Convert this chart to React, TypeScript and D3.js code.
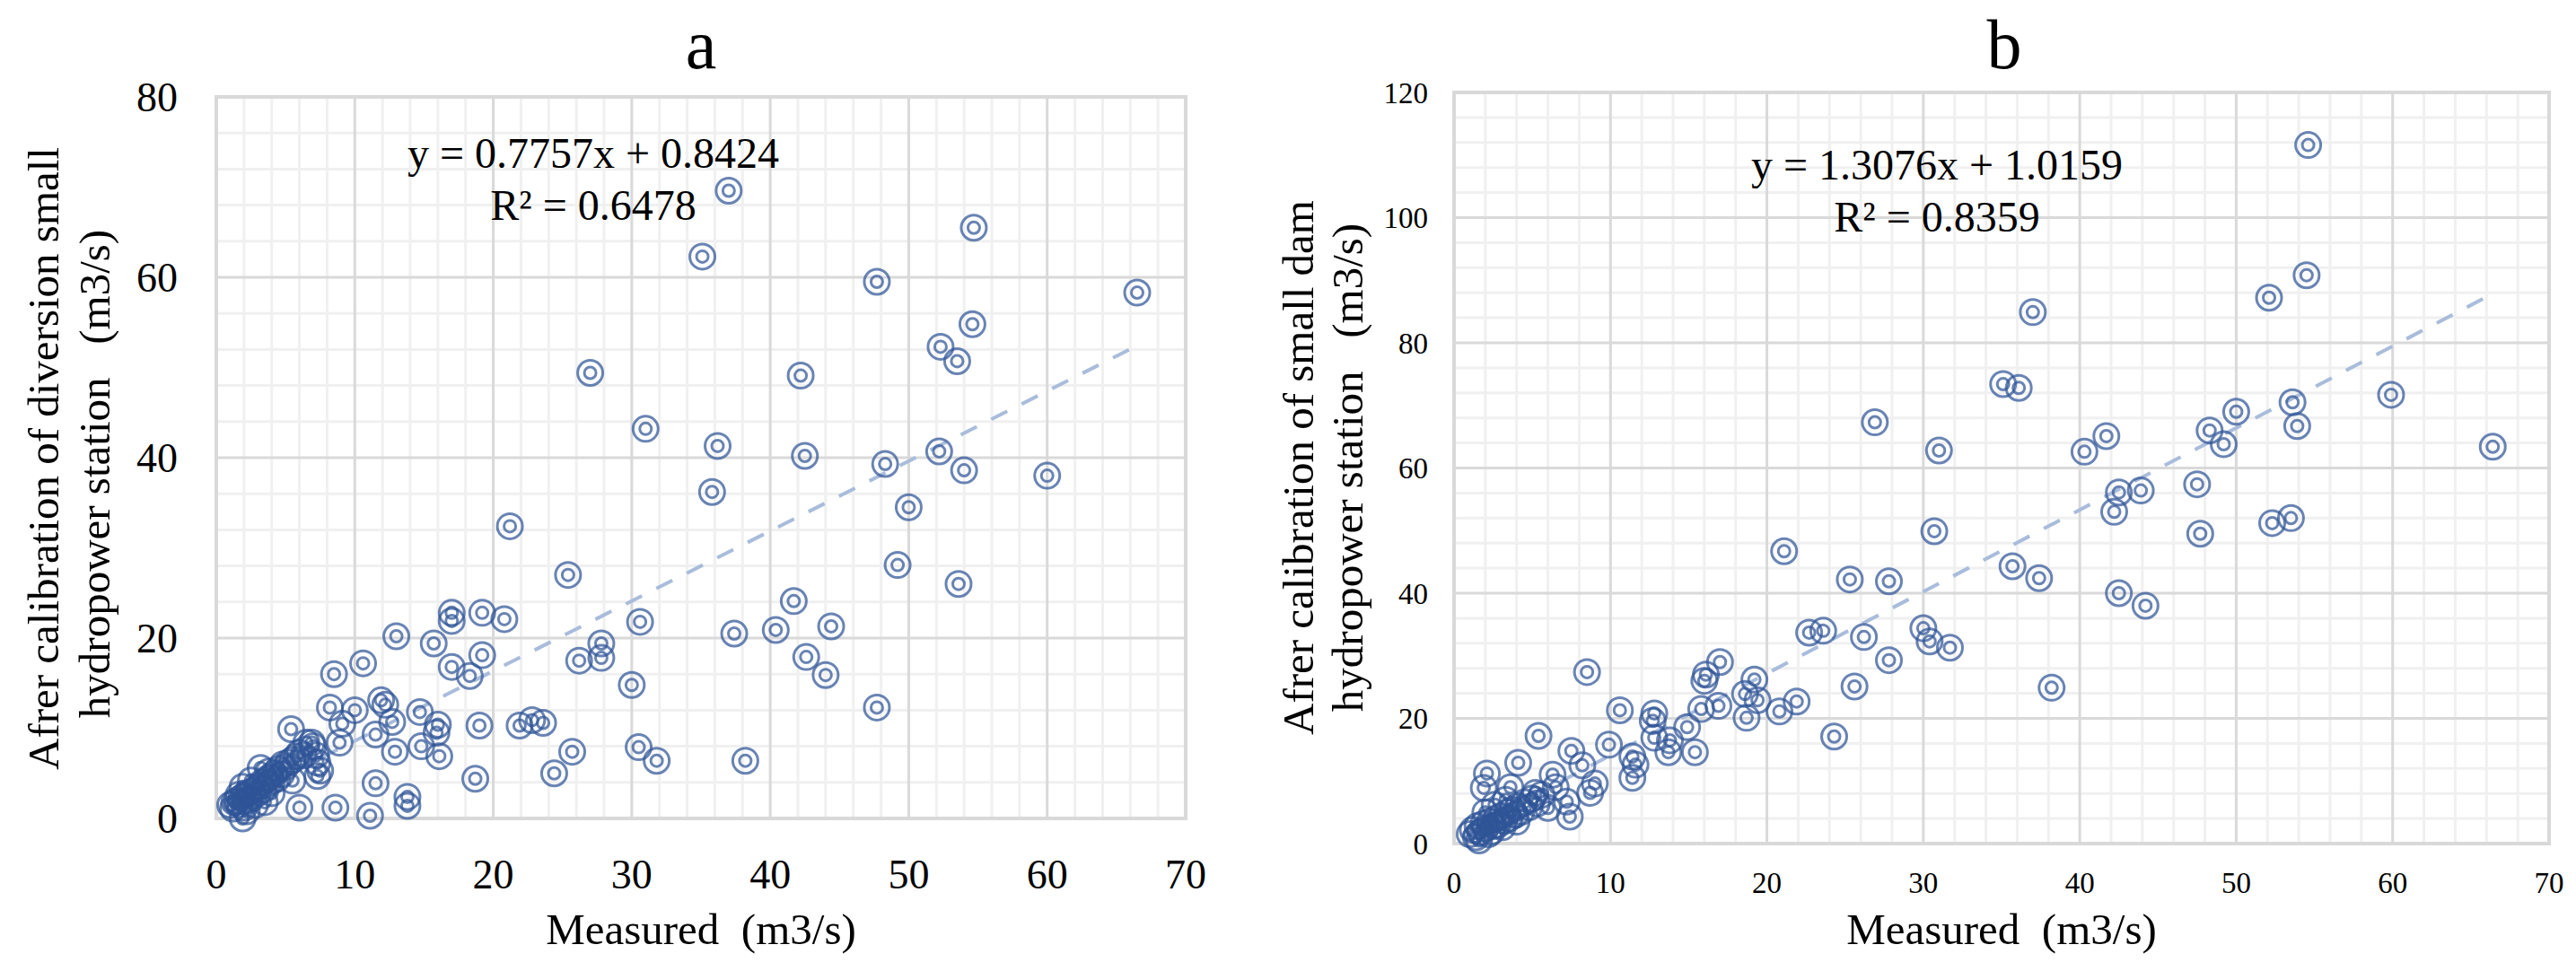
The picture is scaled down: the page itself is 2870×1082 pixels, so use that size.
import React from 'react';
import * as d3 from 'd3';

// shared tick labels
const xTicks = [0, 10, 20, 30, 40, 50, 60, 70];
const yTicksA = [0, 20, 40, 60, 80];
const yTicksB = [0, 20, 40, 60, 80, 100, 120];

// panel a: measured vs. diversion small hydropower station
const measuredA = [
  37.0, 54.7, 35.1, 47.7, 66.5, 54.6, 52.3, 53.5, 27.0, 42.2,
  31.0, 36.2, 52.2, 42.5, 48.3, 54.0, 60.0, 35.8, 50.0, 21.2,
  49.2, 25.4, 53.6, 41.7, 17.0, 19.2, 20.8, 17.0, 30.6, 44.4,
  40.4, 37.4, 13.0, 15.7, 27.8, 19.2, 42.6, 26.2, 27.8, 17.0,
  18.3, 8.5, 44.0, 10.6, 30.0, 47.7, 11.9, 12.2, 8.2, 10.0,
  14.7, 21.9, 22.8, 23.6, 19.0, 16.0, 15.9, 12.7, 9.1, 5.4,
  11.5, 14.8, 8.9, 6.9, 25.7, 12.9, 30.5, 16.1, 31.8, 38.2,
  24.4, 18.7, 7.3, 7.3, 7.5, 11.5, 13.8, 13.8, 8.6, 6.0,
  11.1, 1.9,
  1.0, 1.3, 1.5, 1.7, 1.8, 2.0, 2.1, 2.3, 2.4, 2.6,
  2.7, 2.9, 3.0, 3.1, 3.3, 3.4, 3.6, 3.7, 3.9, 4.0,
  4.2, 4.4, 4.5, 4.7, 5.0, 5.2, 5.5, 5.8, 6.0, 6.3,
  6.5, 7.0, 7.2, 3.2, 2.5, 3.5, 2.2, 4.0, 1.2, 1.9,
  2.8, 5.5, 3.8, 4.8, 2.0, 1.6,
];
const calibratedA = [
  69.6, 65.5, 62.3, 59.5, 58.3, 54.8, 52.3, 50.7, 49.4, 49.1,
  43.2, 41.3, 40.7, 40.2, 39.3, 38.6, 38.0, 36.2, 34.5, 32.4,
  28.1, 27.0, 26.0, 24.1, 22.8, 22.8, 22.1, 21.9, 21.8, 21.3,
  20.9, 20.5, 20.2, 19.4, 19.4, 18.1, 17.9, 17.5, 17.8, 16.8,
  15.8, 16.0, 15.9, 17.2, 14.8, 12.3, 13.1, 12.6, 12.3, 12.0,
  11.8, 10.3, 10.9, 10.6, 10.3, 10.4, 9.5, 10.7, 10.5, 9.9,
  9.3, 8.0, 8.4, 8.4, 7.4, 7.4, 7.9, 6.9, 6.4, 6.4,
  5.0, 4.4, 4.7, 6.2, 5.3, 3.9, 2.4, 1.4, 1.2, 1.2,
  0.3, 0.0,
  1.5, 1.8, 2.0, 1.6, 2.3, 2.5, 1.9, 2.8, 2.2, 3.0,
  2.6, 3.3, 2.8, 3.6, 4.0, 3.2, 4.3, 3.8, 4.6, 4.1,
  5.0, 4.4, 5.5, 4.9, 5.7, 6.2, 6.5, 6.9, 7.3, 7.0,
  8.4, 8.0, 7.0, 5.6, 4.2, 1.8, 0.8, 2.8, 1.1, 3.5,
  1.5, 4.2, 5.2, 6.0, 1.2, 2.6,
];

// panel b: measured vs. small dam hydropower station
const measuredB = [
  54.6, 54.5, 52.1, 37.0, 35.1, 36.1, 59.9, 53.6, 50.0, 26.9,
  53.9, 48.3, 41.7, 49.2, 66.4, 40.3, 31.0, 47.5, 42.5, 43.9,
  42.2, 53.5, 52.3, 30.7, 47.7, 21.1, 35.7, 37.4, 25.3, 27.8,
  42.5, 44.2, 22.7, 23.6, 30.0, 30.4, 26.2, 31.7, 17.0, 27.8,
  16.1, 16.0, 8.5, 19.2, 25.6, 38.2, 18.6, 21.9, 16.9, 19.4,
  20.8, 10.6, 15.8, 12.8, 12.7, 14.9, 18.7, 24.3, 5.4, 12.8,
  9.9, 13.8, 15.4, 13.7, 7.5, 4.1, 11.4, 11.6, 8.2, 11.4,
  2.1, 6.3, 1.9, 3.6, 6.5, 9.0, 8.7, 7.2, 7.4, 5.2,
  6.0,
  1.0, 1.2, 1.4, 1.5, 1.7, 1.9, 2.0, 2.2, 2.3, 2.5,
  2.7, 2.8, 3.0, 3.2, 3.4, 3.5, 3.7, 3.9, 4.1, 4.3,
  4.5, 4.8, 5.0, 5.3, 1.6, 2.4, 3.1, 2.0, 2.6, 3.3,
  4.0, 5.6,
];
const calibratedB = [
  111.6, 90.8, 87.2, 84.9, 73.4, 72.8, 71.7, 70.5, 69.0, 67.3,
  66.7, 66.0, 65.1, 63.8, 63.4, 62.6, 62.8, 57.4, 56.1, 56.4,
  53.0, 52.0, 51.2, 49.9, 49.5, 46.7, 44.3, 42.4, 42.2, 41.9,
  40.0, 38.0, 33.7, 34.0, 34.4, 32.3, 33.0, 31.3, 29.0, 29.3,
  27.0, 26.0, 27.4, 26.2, 25.1, 24.9, 23.9, 22.7, 22.0, 22.9,
  21.1, 21.3, 21.5, 20.8, 19.6, 18.6, 20.1, 17.1, 17.2, 16.9,
  15.8, 16.5, 14.6, 14.6, 14.8, 12.9, 13.9, 12.6, 12.5, 10.5,
  11.2, 11.0, 8.9, 9.0, 9.0, 9.6, 8.1, 6.7, 4.3, 8.1,
  5.7,
  1.5, 2.2, 1.0, 2.8, 1.8, 3.2, 2.4, 1.5, 3.6, 2.8,
  4.0, 3.0, 4.4, 3.6, 5.0, 4.0, 5.4, 4.6, 6.0, 5.1,
  6.6, 5.8, 7.2, 6.4, 0.5, 1.9, 2.6, 5.0, 6.2, 7.0,
  3.5, 7.8,
];

const FONT = '"Liberation Serif", "DejaVu Serif", serif';
const MARK = '#2F5597';
const TREND = '#a9bcdb';

type PanelProps = {
  xs: number[];
  ys: number[];
  yMax: number;
  yTicks: number[];
  left: number; right: number; top: number; bottom: number;
  tickFont: number;
  yTickRight: number;
  xTickBase: number;
  title: string; titleX: number;
  slope: number; intercept: number;
  eq: string; r2: string; eqX: number; eqY: number;
  yTitle: { text: string; x: number; y: number }[];
  xTitleX: number;
};

function Panel(p: PanelProps) {
  const x = d3.scaleLinear().domain([0, 70]).range([p.left, p.right]);
  const y = d3.scaleLinear().domain([0, p.yMax]).range([p.bottom, p.top]);
  const xMinor = d3.range(0, 70.01, 2).filter((v) => v % 10 !== 0);
  const yMinor = d3.range(0, p.yMax + 0.01, 4).filter((v) => v % 20 !== 0);
  const xMin = d3.min(p.xs) as number;
  const xMax = d3.max(p.xs) as number;

  return (
    <g style={{ fontFamily: FONT }}>
      {/* minor grid */}
      <g stroke="#f0f0f0" strokeWidth={3}>
        {xMinor.map((v) => (
          <line key={'xm' + v} x1={x(v)} x2={x(v)} y1={p.top} y2={p.bottom} />
        ))}
        {yMinor.map((v) => (
          <line key={'ym' + v} x1={p.left} x2={p.right} y1={y(v)} y2={y(v)} />
        ))}
      </g>
      {/* major grid */}
      <g stroke="#d9d9d9" strokeWidth={3}>
        {xTicks.map((v) => (
          <line key={'xg' + v} x1={x(v)} x2={x(v)} y1={p.top} y2={p.bottom} />
        ))}
        {p.yTicks.map((v) => (
          <line key={'yg' + v} x1={p.left} x2={p.right} y1={y(v)} y2={y(v)} />
        ))}
      </g>
      <rect x={p.left} y={p.top} width={p.right - p.left} height={p.bottom - p.top}
        fill="none" stroke="#d9d9d9" strokeWidth={4} />

      {/* trendline */}
      <line x1={x(xMin)} y1={y(p.slope * xMin + p.intercept)}
        x2={x(xMax)} y2={y(p.slope * xMax + p.intercept)}
        stroke={TREND} strokeWidth={4} strokeDasharray="20 18" />

      {/* markers */}
      <g fill="none" stroke={MARK} strokeOpacity={0.72} strokeWidth={3}>
        {p.xs.map((v, i) => (
          <g key={i} transform={`translate(${x(v)},${y(p.ys[i])})`}>
            <circle r={14} />
            <circle r={6.5} />
          </g>
        ))}
      </g>

      {/* tick labels */}
      <g fontSize={p.tickFont} fill="#000">
        {xTicks.map((v) => (
          <text key={'xt' + v} x={x(v)} y={p.xTickBase} textAnchor="middle">{v}</text>
        ))}
        {p.yTicks.map((v) => (
          <text key={'yt' + v} x={p.yTickRight} y={y(v)} dy="0.35em" textAnchor="end">{v}</text>
        ))}
      </g>

      {/* equation */}
      <g fontSize={48} textAnchor="middle">
        <text x={p.eqX} y={p.eqY}>{p.eq}</text>
        <text x={p.eqX} y={p.eqY + 58}>{p.r2}</text>
      </g>

      <text x={p.titleX} y={76} fontSize={78} textAnchor="middle">{p.title}</text>

      <g fontSize={49} textAnchor="middle">
        {p.yTitle.map((t, i) => (
          <text key={i} transform={`translate(${t.x},${t.y}) rotate(-90)`}>{t.text}</text>
        ))}
        <text x={p.xTitleX} y={1052}>{'Measured\u2002(m3/s)'}</text>
      </g>
    </g>
  );
}

export default function App() {
  return (
    <svg width={2870} height={1082} viewBox="0 0 2870 1082"
      style={{ position: 'fixed', left: 0, top: 0, background: '#fff' }}>
      <rect width={2870} height={1082} fill="#fff" />
      <Panel
        xs={measuredA} ys={calibratedA} yMax={80} yTicks={yTicksA}
        left={241} right={1321} top={108} bottom={912}
        tickFont={46} yTickRight={198} xTickBase={990}
        title="a" titleX={781}
        slope={0.7757} intercept={0.8424}
        eq="y = 0.7757x + 0.8424" r2="R² = 0.6478" eqX={661} eqY={187}
        yTitle={[
          { text: 'Afrer calibration of diversion small', x: 65, y: 511 },
          { text: 'hydropower station \u2002(m3/s)', x: 122, y: 528 },
        ]}
        xTitleX={781}
      />
      <Panel
        xs={measuredB} ys={calibratedB} yMax={120} yTicks={yTicksB}
        left={1620} right={2840} top={103} bottom={940}
        tickFont={33} yTickRight={1591} xTickBase={995}
        title="b" titleX={2233}
        slope={1.3076} intercept={1.0159}
        eq="y = 1.3076x + 1.0159" r2="R² = 0.8359" eqX={2158} eqY={200}
        yTitle={[
          { text: 'Afrer calibration of small dam', x: 1463, y: 521 },
          { text: 'hydropower station \u2002(m3/s)', x: 1518, y: 521 },
        ]}
        xTitleX={2230}
      />
    </svg>
  );
}
